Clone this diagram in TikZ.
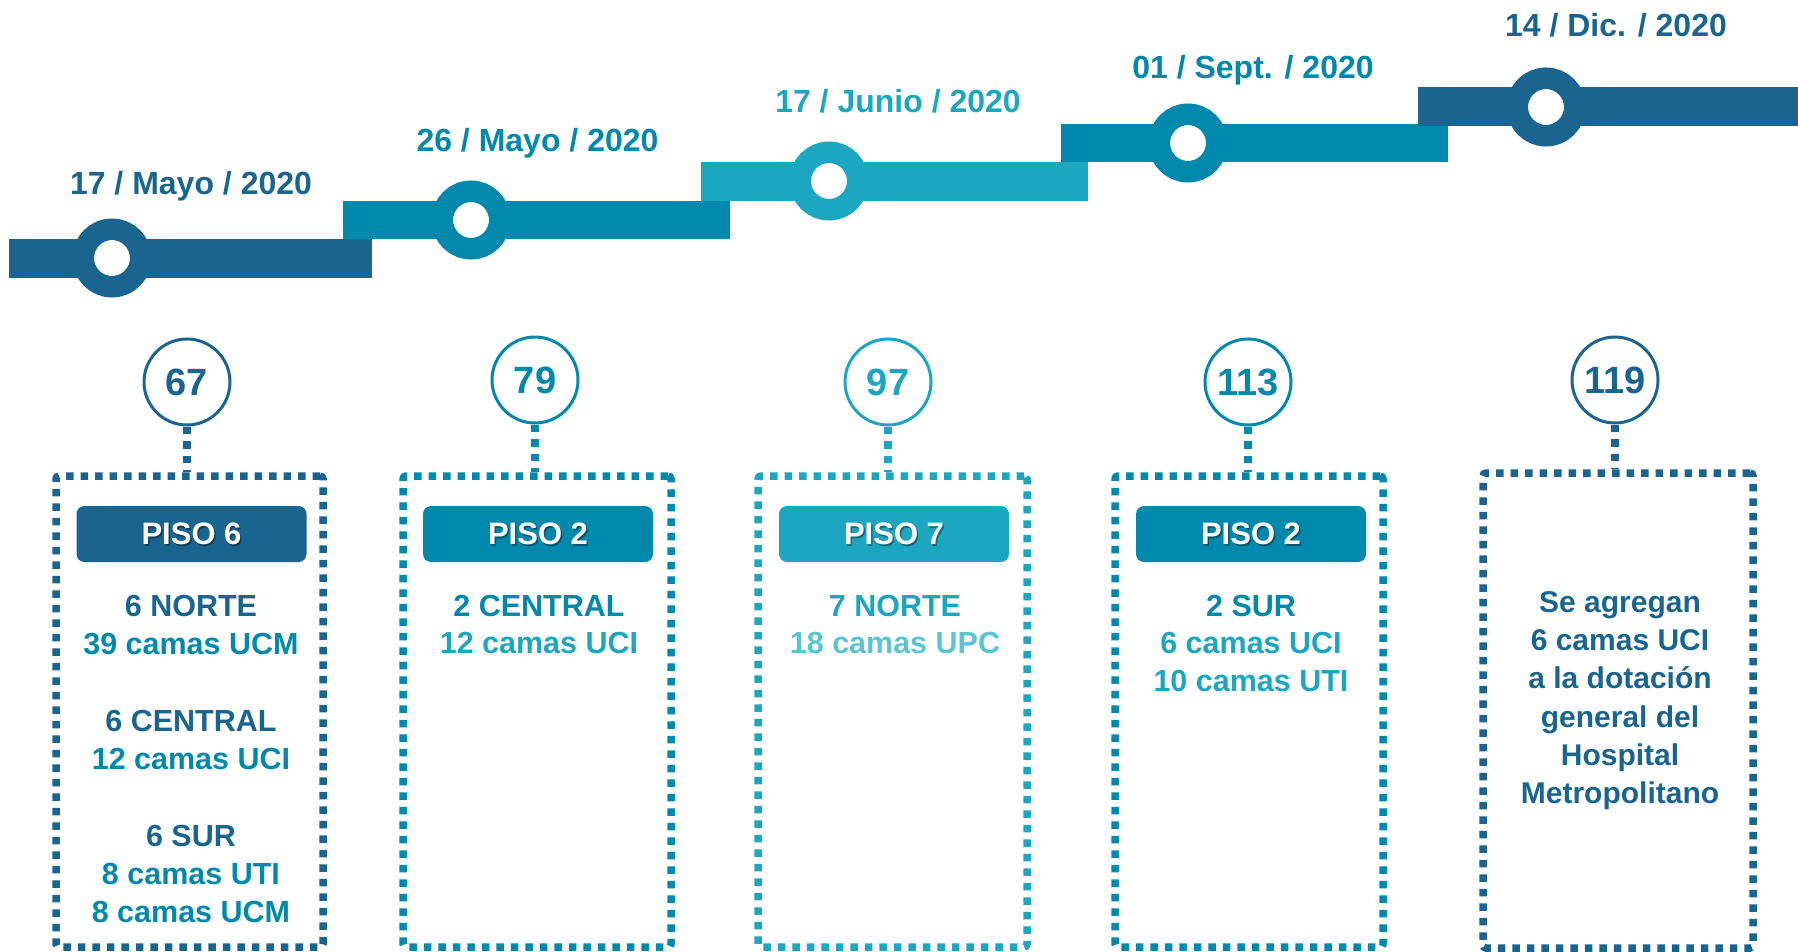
\documentclass[tikz,border=0pt]{standalone}
\usepackage{fontspec}
\setmainfont{Liberation Sans}
\definecolor{cdark}{HTML}{19658F}
\definecolor{cmid}{HTML}{0088AD}
\definecolor{clight}{HTML}{1DA6C0}
\definecolor{clighter}{HTML}{58C5D1}
\begin{document}
\begin{tikzpicture}[x=1pt,y=-1pt,
  datelbl/.style={font=\bfseries\fontsize{32}{38}\selectfont, anchor=base, inner sep=0pt},
  ring/.style={circle, fill=white, line width=21.5pt, minimum size=57.5pt, inner sep=0pt},
  numcirc/.style={circle, draw, line width=3pt, minimum size=86pt, inner sep=0pt, fill=white, font=\bfseries\fontsize{38}{40}\selectfont},
  dotline/.style={line width=7.5pt, dash pattern=on 7.5pt off 7pt},
  dotbox/.style={draw, dotline, rounded corners=3pt, inner sep=0pt},
  pisolbl/.style={rounded corners=8pt, minimum width=230pt, minimum height=56pt, inner sep=0pt},
  pisotxt/.style={font=\bfseries\fontsize{31}{36}\selectfont, inner sep=0pt},
  body/.style={font=\bfseries\fontsize{30.5}{38}\selectfont, anchor=base, inner sep=0pt},
  bodyb/.style={font=\bfseries\fontsize{30}{38}\selectfont, anchor=base, inner sep=0pt, text=cdark}
]
\useasboundingbox (0,0) rectangle (1798,952);

% timeline bars
\fill[cdark]  (9,239)    rectangle (372,278);
\fill[cmid]   (343,201)  rectangle (730,239);
\fill[clight] (701,162)  rectangle (1088,201);
\fill[cmid]   (1061,124) rectangle (1448,162);
\fill[cdark]  (1418,87)  rectangle (1798,126);

% timeline rings
\node[ring, draw=cdark]  (t1) at (112,258) {};
\node[ring, draw=cmid]   (t2) at (471,220) {};
\node[ring, draw=clight] (t3) at (829,181) {};
\node[ring, draw=cmid]   (t4) at (1188,143) {};
\node[ring, draw=cdark]  (t5) at (1546,107) {};

% dates
\node[datelbl, text=cdark]  (d1) at (191,194)  {17 / Mayo / 2020};
\node[datelbl, text=cmid]   (d2) at (537.5,152) {26 / Mayo / 2020};
\node[datelbl, text=clight] (d3) at (898,113)  {17 / Junio / 2020};
\node[datelbl, text=cmid]   (d4) at (1253,79)  {01 / Sept. / 2020};
\node[datelbl, text=cdark]  (d5) at (1616,37)  {14 / Dic. / 2020};

% dotted boxes
\node[dotbox, draw=cdark,  minimum width=267pt, minimum height=471pt] (b1) at (189.5,711.5) {};
\node[dotbox, draw=cmid,   minimum width=268pt, minimum height=471pt] (b2) at (537,711.5) {};
\node[dotbox, draw=clight, minimum width=269pt, minimum height=471pt] (b3) at (892.5,711.5) {};
\node[dotbox, draw=cmid,   minimum width=268pt, minimum height=471pt] (b4) at (1249,711.5) {};
\node[dotbox, draw=cdark,  minimum width=270pt, minimum height=475pt] (b5) at (1618,710.5) {};

% number circles
\node[numcirc, draw=cdark,  text=cdark]  (c1) at (187,382)  {67};
\node[numcirc, draw=cmid,   text=cmid]   (c2) at (535,380)  {79};
\node[numcirc, draw=clight, text=clight] (c3) at (888,382)  {97};
\node[numcirc, draw=cmid,   text=cmid]   (c4) at (1248,382) {113};
\node[numcirc, draw=cdark,  text=cdark]  (c5) at (1615,380) {119};

% connectors
\draw[dotline, cdark]  (c1.south) -- (c1.south |- b1.north);
\draw[dotline, cmid]   (c2.south) -- (c2.south |- b2.north);
\draw[dotline, clight] (c3.south) -- (c3.south |- b3.north);
\draw[dotline, cmid]   (c4.south) -- (c4.south |- b4.north);
\draw[dotline, cdark]  (c5.south) -- (c5.south |- b5.north);

% PISO labels
\node[pisolbl, fill=cdark]  (p1) at (191.5,534) {};
\node[pisolbl, fill=cmid]   (p2) at (538,534) {};
\node[pisolbl, fill=clight] (p3) at (894,534) {};
\node[pisolbl, fill=cmid]   (p4) at (1251,534) {};
\foreach \p/\t in {p1/PISO 6, p2/PISO 2, p3/PISO 7, p4/PISO 2}{
  \node[pisotxt, text=black, opacity=0.35] (\p s) at ([xshift=1.5pt,yshift=-1.5pt]\p) {\t};
  \node[pisotxt, text=white] (\p t) at (\p) {\t};
}

% box 1 text
\node[body, text=cdark] (l11) at (191,616) {6 NORTE};
\node[body, text=cmid]  (l12) at (191,654) {39 camas UCM};
\node[body, text=cdark] (l13) at (191,731) {6 CENTRAL};
\node[body, text=cmid]  (l14) at (191,769) {12 camas UCI};
\node[body, text=cdark] (l15) at (191,846) {6 SUR};
\node[body, text=cmid]  (l16) at (191,884) {8 camas UTI};
\node[body, text=cmid]  (l17) at (191,922) {8 camas UCM};

% box 2 text
\node[body, text=cmid]   (l21) at (539,616) {2 CENTRAL};
\node[body, text=clight] (l22) at (539,653) {12 camas UCI};

% box 3 text
\node[body, text=clight]   (l31) at (895,616) {7 NORTE};
\node[body, text=clighter] (l32) at (895,653) {18 camas UPC};

% box 4 text
\node[body, text=cmid]   (l41) at (1251,616) {2 SUR};
\node[body, text=clight] (l42) at (1251,653) {6 camas UCI};
\node[body, text=clight] (l43) at (1251,691) {10 camas UTI};

% box 5 text
\node[bodyb] (l51) at (1620,612) {Se agregan};
\node[bodyb] (l52) at (1620,650) {6 camas UCI};
\node[bodyb] (l53) at (1620,688) {a la dotación};
\node[bodyb] (l54) at (1620,727) {general del};
\node[bodyb] (l55) at (1620,765) {Hospital};
\node[bodyb] (l56) at (1620,803) {Metropolitano};
\end{tikzpicture}
\end{document}
